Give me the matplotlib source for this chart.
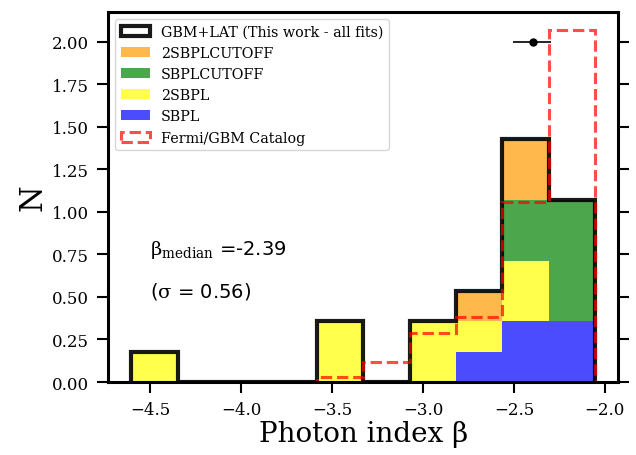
import numpy as np
import matplotlib
matplotlib.use("Agg")
import matplotlib.pyplot as plt

plt.rcParams['font.family'] = 'DejaVu Serif'
plt.rcParams['mathtext.fontset'] = 'dejavuserif'

# photon index bins (10 bins between min and max beta)
beta_min, beta_max = -4.604, -2.054
n_bins = 10

# number of GRBs per bin for each best-fit model
models = ['SBPL', '2SBPL', 'SBPLCUTOFF', '2SBPLCUTOFF']
sbpl_counts = [0, 0, 0, 0, 0, 0, 0, 1, 2, 2]
sbpl2_counts = [1, 0, 0, 0, 2, 0, 2, 1, 2, 0]
sbplcut_counts = [0, 0, 0, 0, 0, 0, 0, 0, 2, 4]
sbpl2cut_counts = [0, 0, 0, 0, 0, 0, 0, 1, 2, 0]
model_colors = ['blue', 'yellow', 'green', '#ff9a00']

# Fermi/GBM catalog (normalised)
fermi_density = [0, 0, 0, 0, 0.03, 0.115, 0.29, 0.38, 1.055, 2.07]

beta_median = -2.39
beta_sigma = 0.56
cat_point = -2.394
cat_err_lo, cat_err_hi = 0.113, 0.096
cat_y = 2.0

edges = np.linspace(beta_min, beta_max, n_bins + 1)
centers = 0.5 * (edges[1:] + edges[:-1])
all_counts = np.array([sbpl_counts, sbpl2_counts, sbplcut_counts, sbpl2cut_counts], dtype=float)
total = all_counts.sum()
width = edges[1] - edges[0]
dens = all_counts / (total * width)

fig = plt.figure(figsize=(6.36, 4.56), dpi=100)
ax = fig.add_axes([0.17, 0.16, 0.802, 0.8115])

ax.hist(centers, bins=edges, weights=dens.sum(axis=0), histtype='step',
        color='black', alpha=0.9, lw=3, label='GBM+LAT (This work - all fits)')
ax.hist([centers] * 4, bins=edges, weights=list(dens), stacked=True,
        color=model_colors, alpha=0.7, label=models)
ax.hist(centers, bins=edges, weights=fermi_density, histtype='step',
        color='red', alpha=0.7, lw=2.2, ls='--', label='Fermi/GBM Catalog')

ax.errorbar(cat_point, cat_y, xerr=[[cat_err_lo], [cat_err_hi]], fmt='o',
            color='black', ms=5, lw=1.2)

ax.text(-4.5, 0.75, r'$\mathrm{β}_{\mathrm{median}}$ =' + f'{beta_median}', fontsize=14, family='DejaVu Sans')
ax.text(-4.5, 0.5, r'($\mathrm{σ}$ = ' + f'{beta_sigma})', fontsize=14, family='DejaVu Sans')

handles, labels = ax.get_legend_handles_labels()
order = ['GBM+LAT (This work - all fits)', '2SBPLCUTOFF', 'SBPLCUTOFF', '2SBPL', 'SBPL', 'Fermi/GBM Catalog']
hd = dict(zip(labels, handles))
ax.legend([hd[k] for k in order], order, loc='upper left', fontsize=10.3)

ax.set_xlabel('Photon index β', fontsize=20, labelpad=1)
ax.set_ylabel('N', fontsize=22, labelpad=2)
ax.set_yticks(np.arange(0, 2.01, 0.25))
ax.tick_params(axis='both', labelsize=12, width=1.5, length=8, pad=6, direction='out')
ax.tick_params(axis='y', right=True)
for s in ax.spines.values():
    s.set_linewidth(2.2)

plt.savefig('out.png', dpi=100)
